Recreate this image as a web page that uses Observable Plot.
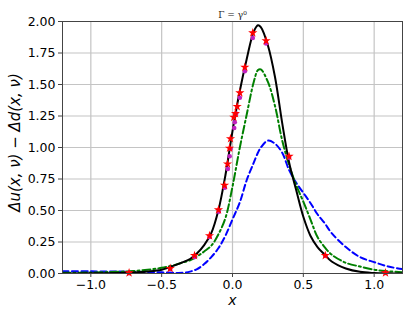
<!DOCTYPE html>
<html><head><meta charset="utf-8">
<script src="https://cdn.jsdelivr.net/npm/d3@7"></script>
<script src="https://cdn.jsdelivr.net/npm/@observablehq/plot@0.6"></script>
<style>body{margin:0;background:#fff}</style>
</head><body><div id="chart"></div>
<script>
const xGrid = [-1.2,-1.0,-0.8,-0.7,-0.6,-0.5,-0.4,-0.35,-0.3,-0.25,-0.2,-0.15,-0.1,-0.05,0,0.05,0.1,0.15,0.18,0.2,0.25,0.3,0.35,0.4,0.45,0.5,0.55,0.6,0.65,0.7,0.8,0.9,1.0,1.1,1.2];
const blackY = [0.0,0.001,0.003,0.007,0.015,0.03,0.068,0.09,0.115,0.16,0.225,0.32,0.50,0.78,1.13,1.44,1.70,1.92,1.97,1.955,1.81,1.56,1.20,0.88,0.66,0.45,0.30,0.21,0.15,0.095,0.04,0.013,0.004,0.001,0.0];
const greenY = [0.005,0.008,0.014,0.02,0.03,0.045,0.07,0.088,0.105,0.135,0.175,0.22,0.31,0.44,0.69,0.99,1.26,1.52,1.615,1.62,1.52,1.33,1.06,0.86,0.70,0.57,0.43,0.29,0.21,0.15,0.085,0.055,0.03,0.018,0.01];
const blueY = [0.018,0.017,0.015,0.014,0.012,0.009,0.005,0.006,0.015,0.035,0.075,0.13,0.20,0.30,0.43,0.56,0.74,0.88,0.96,1.0,1.055,1.03,0.96,0.82,0.72,0.64,0.56,0.47,0.40,0.32,0.21,0.13,0.09,0.055,0.035];

const starX = [-0.73,-0.44,-0.268,-0.162,-0.099,-0.056,-0.035,-0.021,-0.014,0.009,0.021,0.033,0.052,0.087,0.143,0.237,0.399,0.655,1.08];
const starY = [0.005,0.04,0.143,0.30,0.505,0.70,0.87,0.995,1.07,1.24,1.27,1.325,1.434,1.637,1.91,1.847,0.93,0.143,0.005];
const magX = [-0.73,-0.44,-0.268,-0.162,-0.097,-0.054,-0.033,-0.02,-0.013,0.012,0.016,0.026,0.052,0.087,0.143,0.237,0.399,0.655,1.08];
const magY = [0.003,0.035,0.13,0.29,0.49,0.68,0.83,0.93,0.99,1.155,1.20,1.27,1.395,1.605,1.87,1.825,0.92,0.14,0.004];

const xTicks = [-1.0,-0.5,0.0,0.5,1.0];
const yTicks = [0,0.25,0.5,0.75,1.0,1.25,1.5,1.75,2.0];
const title = "Γ = γ⁰";
const xLabel = "x";
const yLabel = "Δu(x, ν) − Δd(x, ν)";

const toRows = (xs, ys) => xs.map((x, i) => ({x, y: ys[i]}));
const black = toRows(xGrid, blackY);
const green = toRows(xGrid, greenY);
const blue = toRows(xGrid, blueY);
const stars = toRows(starX, starY);
const mags = toRows(magX, magY);

const chart = Plot.plot({
  width: 408, height: 318,
  marginLeft: 62, marginRight: 6, marginTop: 21, marginBottom: 45,
  style: {fontFamily: "DejaVu Sans", fontSize: "12.5px", background: "#fff", color: "#000"},
  x: {domain: [-1.2, 1.2]},
  y: {domain: [0, 2]},
  marks: [
    Plot.gridX(xTicks, {stroke: "#c4c4c4", strokeOpacity: 1, strokeWidth: 1.2}),
    Plot.gridY(yTicks, {stroke: "#c4c4c4", strokeOpacity: 1, strokeWidth: 1.2}),
    Plot.line(blue, {x: "x", y: "y", stroke: "#0000ff", strokeWidth: 2, strokeDasharray: "6,3.5", curve: "catmull-rom", clip: true}),
    Plot.line(green, {x: "x", y: "y", stroke: "#008000", strokeWidth: 2, strokeDasharray: "8,3,2,3", curve: "catmull-rom", clip: true}),
    Plot.line(black, {x: "x", y: "y", stroke: "#000", strokeWidth: 2, curve: "catmull-rom", clip: true}),
    Plot.dot(mags, {x: "x", y: "y", r: 2.3, fill: "#c020c0", stroke: "none"}),
    Plot.dot(stars, {x: "x", y: "y", r: 2.9, symbol: "star", fill: "#ff0000", stroke: "none"}),
    Plot.frame({stroke: "#444", strokeWidth: 1}),
    Plot.axisX(xTicks, {tickFormat: ".1f", tickSize: 4, tickPadding: 3, label: null, stroke: "#444"}),
    Plot.axisY(yTicks, {tickFormat: ".2f", tickSize: 4, tickPadding: 3, label: null, stroke: "#444"}),
    Plot.text([title], {frameAnchor: "top", dy: -10, fontFamily: "DejaVu Serif", fontSize: 9, fill: "#222"}),
    Plot.text([xLabel], {frameAnchor: "bottom", dy: 31, fontSize: 14, fontStyle: "italic"}),
    Plot.text([yLabel], {frameAnchor: "left", textAnchor: "middle", dx: -47, dy: -5, rotate: -90, fontSize: 15, fontStyle: "italic"})
  ]
});
document.getElementById("chart").appendChild(chart);
</script>
</body></html>
